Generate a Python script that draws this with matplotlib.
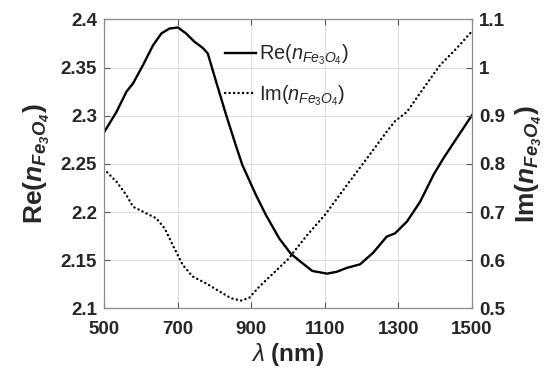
import numpy as np
import matplotlib.pyplot as plt

plt.rcParams['font.family'] = 'Liberation Sans'
plt.rcParams['mathtext.fontset'] = 'custom'
plt.rcParams['mathtext.rm'] = 'Liberation Sans'
plt.rcParams['mathtext.it'] = 'Liberation Sans:italic'
plt.rcParams['mathtext.bf'] = 'Liberation Sans:bold'
plt.rcParams['mathtext.bfit'] = 'Liberation Sans:italic:bold'

# Re(n) - linke Achse
wl_re = [500, 534, 561, 579, 606, 633, 656, 678, 701, 723, 746, 768, 782, 805, 832,
         858, 876, 913, 940, 976, 1007, 1034, 1066, 1106, 1133, 1160, 1196, 1232,
         1268, 1291, 1323, 1359, 1395, 1422, 1458, 1500]
re_n = [2.2827, 2.304, 2.325, 2.3336, 2.3526, 2.373, 2.3855, 2.3906, 2.3917, 2.3855,
        2.3768, 2.3706, 2.3647, 2.335, 2.3007, 2.2695, 2.2488, 2.2176, 2.1969, 2.1727,
        2.157, 2.1484, 2.1388, 2.136, 2.138, 2.142, 2.1457, 2.158, 2.1744, 2.1779,
        2.190, 2.2107, 2.2384, 2.2557, 2.2765, 2.3007]

# Im(n) - rechte Achse
wl_im = [500, 534, 561, 579, 606, 642, 665, 687, 714, 741, 777, 814, 845, 872, 895,
         922, 1003, 1016, 1052, 1100, 1160, 1214, 1268, 1291, 1323, 1368, 1413,
         1458, 1500]
im_n = [0.7893, 0.763, 0.735, 0.711, 0.7007, 0.687, 0.666, 0.631, 0.590, 0.566,
        0.552, 0.535, 0.521, 0.516, 0.522, 0.545, 0.604, 0.6176, 0.652,
        0.6938, 0.756, 0.811, 0.8668, 0.889, 0.908, 0.957, 1.005, 1.040, 1.0757]

xticks = [500, 700, 900, 1100, 1300, 1500]
yticks_l = [2.1, 2.15, 2.2, 2.25, 2.3, 2.35, 2.4]
ylabels_l = ["2.1", "2.15", "2.2", "2.25", "2.3", "2.35", "2.4"]
yticks_r = [0.5, 0.6, 0.7, 0.8, 0.9, 1.0, 1.1]
ylabels_r = ["0.5", "0.6", "0.7", "0.8", "0.9", "1", "1.1"]

fig = plt.figure(figsize=(5.56, 3.69), dpi=100)
ax = fig.add_axes([0.187, 0.1645, 0.662, 0.7827])
ax2 = ax.twinx()

tc = '#262626'
l1, = ax.plot(wl_re, re_n, 'k-', lw=1.7, label=r'Re($n_{Fe_3O_4}$)')
l2, = ax2.plot(wl_im, im_n, color='k', lw=1.7, ls=(0, (0.1, 1.8)),
               dash_capstyle='round', label=r'Im($n_{Fe_3O_4}$)')

ax.set_xlim(500, 1500)
ax.set_ylim(2.1, 2.4)
ax2.set_ylim(0.5, 1.1)
ax.set_xticks(xticks)
ax.set_xticklabels([str(t) for t in xticks])
ax.set_yticks(yticks_l)
ax.set_yticklabels(ylabels_l)
ax2.set_yticks(yticks_r)
ax2.set_yticklabels(ylabels_r)

ax.grid(True, color='#dedede', lw=0.8)
ax.set_axisbelow(True)
for a in (ax, ax2):
    a.tick_params(direction='in', length=4, width=0.8, color='#555555',
                  labelsize=13.5, labelcolor=tc, pad=5)
    for lab in a.get_xticklabels() + a.get_yticklabels():
        lab.set_fontweight('bold')
    for s in a.spines.values():
        s.set_color('#8a8a8a')
        s.set_linewidth(0.8)
ax.tick_params(axis='x', top=True, pad=9)

ax.set_xlabel(r'$\lambda$ (nm)', fontsize=17.5, fontweight='bold', color=tc, labelpad=2)
ax.set_ylabel(r'Re($\mathbfit{n}_{\mathbfit{Fe}_\mathbfit{3}\mathbfit{O}_\mathbfit{4}}$)',
              fontsize=19, fontweight='bold', color=tc, labelpad=6)
ax2.set_ylabel(r'Im($\mathbfit{n}_{\mathbfit{Fe}_\mathbfit{3}\mathbfit{O}_\mathbfit{4}}$)',
               fontsize=19, fontweight='bold', color=tc, labelpad=6)

leg = ax.legend([l1, l2], [l1.get_label(), l2.get_label()], loc='center left',
                bbox_to_anchor=(0.328, 0.807), frameon=False, fontsize=14.3,
                handlelength=1.6, handletextpad=0.15, borderpad=0,
                borderaxespad=0, labelspacing=0.8)
for t in leg.get_texts():
    t.set_color(tc)

fig.savefig('out.png', dpi=100)
